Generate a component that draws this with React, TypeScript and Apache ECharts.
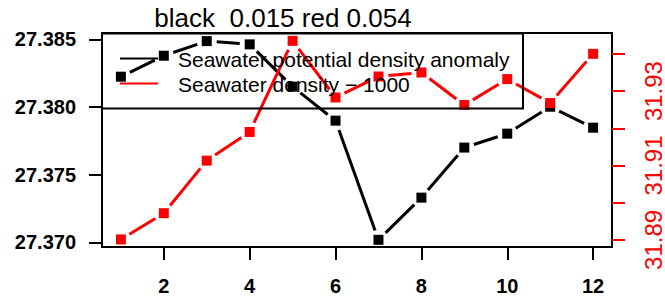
import React, { useEffect, useRef } from "react";
import * as echarts from "echarts";

const months = [1, 2, 3, 4, 5, 6, 7, 8, 9, 10, 11, 12];
const anomaly = [27.38224, 27.38379, 27.38487, 27.38463, 27.3815, 27.37899, 27.37018, 27.3733, 27.377, 27.37803, 27.38002, 27.37847];
const density = [31.89013, 31.89718, 31.91131, 31.91901, 31.94349, 31.92828, 31.93391, 31.93499, 31.92625, 31.93322, 31.92678, 31.94];
const xTicks = [2, 4, 6, 8, 10, 12];
const leftTicks = [27.37, 27.375, 27.38, 27.385];
const rightTicks = [31.89, 31.9, 31.91, 31.92, 31.93, 31.94];
const rightLabels = [31.89, 31.91, 31.93];
const titleText = "black  0.015 red 0.054";
const seriesNames = ["Seawater potential density anomaly", "Seawater density \u2212 1000"];

const FONT = "'Liberation Sans', Arial, Helvetica, sans-serif";

function segments(ys: number[]) {
  const out: number[][] = [];
  for (let i = 0; i < ys.length - 1; i++) {
    out.push([months[i], ys[i], months[i + 1], ys[i + 1]]);
  }
  return out;
}

function gapRender(color: string) {
  return (params: any, api: any) => {
    const p0 = api.coord([api.value(0), api.value(1)]);
    const p1 = api.coord([api.value(2), api.value(3)]);
    const dx = p1[0] - p0[0];
    const dy = p1[1] - p0[1];
    const len = Math.sqrt(dx * dx + dy * dy);
    const gap = 10;
    if (len <= 2 * gap) return null;
    const ux = dx / len;
    const uy = dy / len;
    return {
      type: "line",
      shape: {
        x1: p0[0] + ux * gap,
        y1: p0[1] + uy * gap,
        x2: p1[0] - ux * gap,
        y2: p1[1] - uy * gap,
      },
      style: { stroke: color, lineWidth: 3 },
    };
  };
}

export default function App() {
  const ref = useRef<HTMLDivElement>(null);
  useEffect(() => {
    if (!ref.current) return;
    const chart = echarts.init(ref.current, null, { renderer: "svg" });
    chart.setOption({
      animation: false,
      backgroundColor: "#ffffff",
      grid: {
        left: 102,
        right: 48,
        top: 33,
        bottom: 51,
        show: true,
        borderColor: "#000",
        borderWidth: 2,
        backgroundColor: "transparent",
      },
      xAxis: {
        type: "value",
        min: 0.56,
        max: 12.44,
        splitLine: { show: false },
        axisLine: { show: false },
        axisTick: { show: true, inside: false, length: 13, lineStyle: { color: "#000", width: 2 }, customValues: xTicks },
        axisLabel: {
          customValues: xTicks,
          margin: 29,
          color: "#000",
          fontWeight: "bold",
          fontSize: 20,
          fontFamily: FONT,
        },
      },
      yAxis: [
        {
          type: "value",
          min: 27.36965,
          max: 27.38547,
          splitLine: { show: false },
          axisLine: { show: false },
          axisTick: { show: true, length: 13, lineStyle: { color: "#000", width: 2 }, customValues: leftTicks },
          axisLabel: {
            customValues: leftTicks,
            margin: 26,
            color: "#000",
            fontWeight: "bold",
            fontSize: 20,
            fontFamily: FONT,
            formatter: (v: number) => v.toFixed(3),
          },
        },
        {
          type: "value",
          position: "right",
          min: 31.8881,
          max: 31.9456,
          splitLine: { show: false },
          axisLine: { show: false },
          axisTick: { show: true, length: 13, lineStyle: { color: "#ff0000", width: 2 }, customValues: rightTicks },
          axisLabel: {
            customValues: rightLabels,
            rotate: 90,
            margin: 29,
            color: "#ff0000",
            fontSize: 24,
            fontFamily: FONT,
            formatter: (v: number) => v.toFixed(2),
          },
        },
      ],
      series: [
        {
          type: "custom",
          name: seriesNames[0],
          xAxisIndex: 0,
          yAxisIndex: 0,
          renderItem: gapRender("#000000"),
          data: segments(anomaly),
          z: 2,
        },
        {
          type: "scatter",
          name: seriesNames[0],
          xAxisIndex: 0,
          yAxisIndex: 0,
          symbol: "rect",
          symbolSize: 10,
          itemStyle: { color: "#000000", opacity: 1 },
          data: months.map((m, i) => [m, anomaly[i]]),
          z: 3,
        },
        {
          type: "custom",
          name: seriesNames[1],
          xAxisIndex: 0,
          yAxisIndex: 1,
          renderItem: gapRender("#ff0000"),
          data: segments(density),
          z: 4,
        },
        {
          type: "scatter",
          name: seriesNames[1],
          xAxisIndex: 0,
          yAxisIndex: 1,
          symbol: "rect",
          symbolSize: 10,
          itemStyle: { color: "#ff0000", opacity: 1 },
          data: months.map((m, i) => [m, density[i]]),
          z: 5,
        },
      ],
      graphic: [
        {
          type: "text",
          x: 283,
          y: 18,
          style: {
            text: titleText,
            textAlign: "center",
            textVerticalAlign: "middle",
            fontSize: 26,
            fontFamily: FONT,
            fill: "#000",
          },
          z: 10,
        },
        {
          type: "rect",
          shape: { x: 102, y: 33.5, width: 421, height: 75 },
          style: { fill: "none", stroke: "#000", lineWidth: 2 },
          z: 10,
        },
        {
          type: "line",
          shape: { x1: 120, y1: 58.5, x2: 158, y2: 58.5 },
          style: { stroke: "#000", lineWidth: 2 },
          z: 10,
        },
        {
          type: "line",
          shape: { x1: 120, y1: 83.5, x2: 158, y2: 83.5 },
          style: { stroke: "#ff0000", lineWidth: 2 },
          z: 10,
        },
        {
          type: "text",
          x: 178,
          y: 59,
          style: { text: seriesNames[0], textVerticalAlign: "middle", fontSize: 21, fontFamily: FONT, fill: "#000" },
          z: 10,
        },
        {
          type: "text",
          x: 178,
          y: 84,
          style: { text: seriesNames[1], textVerticalAlign: "middle", fontSize: 21, fontFamily: FONT, fill: "#000" },
          z: 10,
        },
      ],
    });
    return () => chart.dispose();
  }, []);
  return <div ref={ref} style={{ width: 665, height: 298, position: "absolute", left: 0, top: 0 }} />;
}
